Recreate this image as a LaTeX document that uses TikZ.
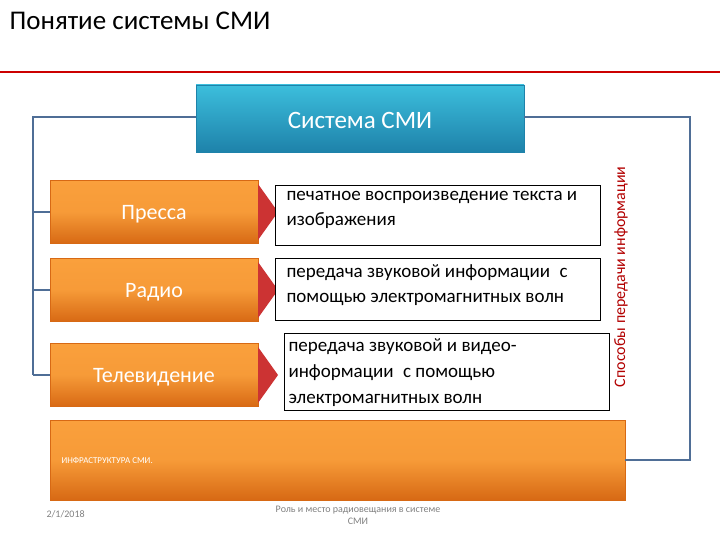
\documentclass[tikz,border=0pt]{standalone}
\usepackage{fontspec}
\setmainfont{Carlito}
\definecolor{conncol}{RGB}{79,110,150}
\definecolor{orT}{RGB}{250,160,60}
\definecolor{orB}{RGB}{215,105,20}
\definecolor{blT}{RGB}{60,190,220}
\definecolor{blB}{RGB}{30,130,170}
\begin{document}
\begin{tikzpicture}[x=1pt,y=-1pt,
 orbox/.style={draw=orB, top color=orT, bottom color=orB, middle color=orT!90!orB},
 conn/.style={draw=conncol, line width=1.2pt},
 txtbox/.style={draw=black, fill=white, anchor=north west, inner sep=0pt},
 tri/.style={fill=red!75!black!80, draw=none}]
\useasboundingbox (0,0) rectangle (720,540);
\node[anchor=west, font=\fontsize{27}{29}\selectfont] (title) at (6,21) {Понятие системы СМИ};
\draw[red!80!black, line width=1.5pt] (0,72) -- (720,72);
% blue box
\node[draw=blB, top color=blT, bottom color=blB, minimum width=328, minimum height=67, inner sep=0pt] (sys) at (360,118.5) {};
\node[text=white, font=\fontsize{25}{27}\selectfont] at (360,120) {Система СМИ};
% orange boxes
\foreach \n/\y/\t in {pr/212/Пресса, ra/290/Радио, tv/375/Телевидение}{
 \node[orbox, minimum width=208, minimum height=63, inner sep=0pt] (\n) at (154,\y) {};
 \node[text=white, font=\fontsize{22}{24}\selectfont] at (154,\y+2) {\t};
 \path[tri] (258,\y-28) -- (278,\y) -- (258,\y+28) -- cycle;
}
% text boxes
\node[txtbox, minimum width=325, minimum height=60] (t1) at (275,185) {};
\node[anchor=north west, align=left, font=\fontsize{19}{25}\selectfont] at (283,188) {печатное воспроизведение текста и\\изображения};
\node[txtbox, minimum width=325, minimum height=62] (t2) at (275,258) {};
\node[anchor=north west, align=left, font=\fontsize{19}{25}\selectfont] at (283,261) {передача звуковой информации\enspace с\\помощью электромагнитных волн};
\node[txtbox, minimum width=325, minimum height=77] (t3) at (284,333) {};
\node[anchor=north west, align=left, font=\fontsize{19}{26}\selectfont] at (285,335) {передача звуковой и видео-\\информации\enspace с помощью\\электромагнитных волн};
% infra
\node[orbox, minimum width=575, minimum height=80, inner sep=0pt] (inf) at (337.5,460) {};
\node[anchor=west, text=white, font=\fontsize{9}{10}\selectfont] at (58,461) {ИНФРАСТРУКТУРА СМИ.};
% vertical label
\node[rotate=90, text=red!70!black, font=\fontsize{16}{18}\selectfont] (sp) at (621,277) {Способы передачи информации};
% connectors
\coordinate (L) at (33,117);
\draw[conn] (sys.west |- 0,117) -- (L) -- (33,375);
\foreach \n in {pr,ra,tv}{ \draw[conn] (33,0 |- \n.west) -- (\n.west); }
\draw[conn] (sys.east |- 0,117) -- (690,117) -- (690,460) -- (inf.east);
% footer
\node[anchor=west, text=gray, font=\fontsize{10}{11}\selectfont] at (43,514) {2/1/2018};
\node[align=center, text=gray, font=\fontsize{10}{12}\selectfont] at (358,515) {Роль и место радиовещания в системе\\СМИ};
\end{tikzpicture}
\end{document}
